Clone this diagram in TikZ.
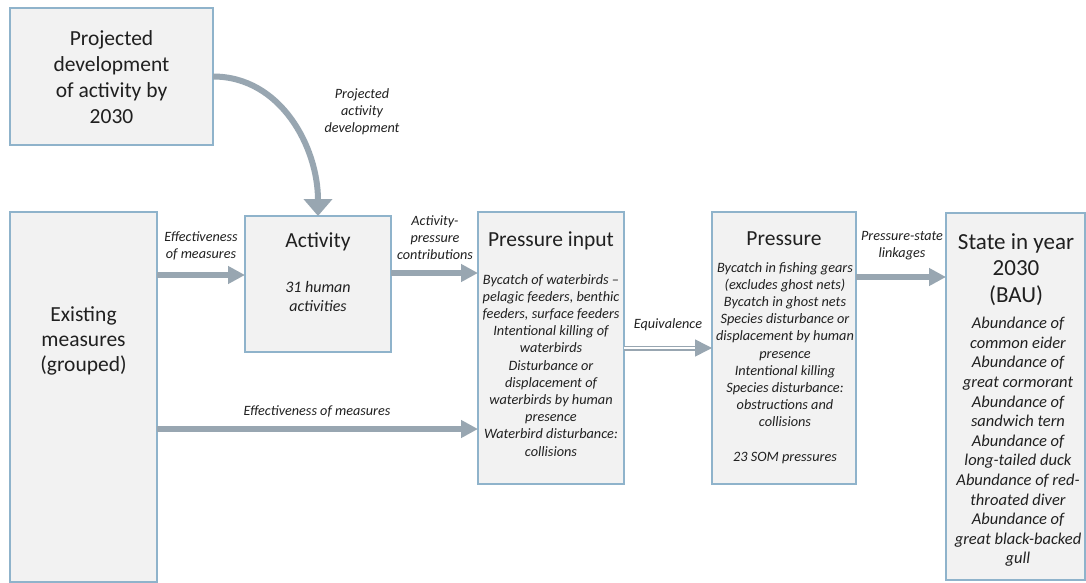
\documentclass[tikz,border=0pt]{standalone}
\usepackage{fontspec}
\setmainfont{Carlito}
\usetikzlibrary{arrows.meta}
\definecolor{boxblue}{RGB}{143,179,203}
\definecolor{boxgray}{RGB}{242,242,242}
\definecolor{arrowgray}{RGB}{152,166,177}
\definecolor{textdark}{RGB}{32,32,32}

\begin{document}
\begin{tikzpicture}[x=1pt,y=-1pt,
  box/.style={draw=boxblue,fill=boxgray,line width=1.6pt,outer sep=0pt,inner sep=0pt,anchor=north west},
  head/.style={font=\fontsize{21.5}{25.8}\selectfont,text=textdark,align=center,anchor=north,inner sep=0pt},
  body/.style={font=\fontsize{14.3}{17.2}\selectfont\itshape,text=textdark,align=center,anchor=north,inner sep=0pt},
  lbl/.style={font=\fontsize{14.2}{17}\selectfont\itshape,text=textdark,align=center,anchor=north,inner sep=0pt},
  flow/.style={draw=arrowgray,line width=6pt,-{Triangle[width=17pt,length=17pt]}},
  bigflow/.style={draw=arrowgray,line width=6pt,-{Triangle[width=28pt,length=17pt]}},
  eqv/.style={draw=arrowgray,line width=1.5pt,double=white,double distance=2pt,-{Triangle[width=17pt,length=17pt]}}]
\fill[white] (0.000000,0.000000) rectangle (1086.000000,583.000000);
% Drawing boxes
\node[box,minimum width=203pt,minimum height=137pt] (proj) at (10.000000,8.000000) {};
\node[box,minimum width=147pt,minimum height=370pt] (exist) at (10.000000,212.000000) {};
\node[box,minimum width=146pt,minimum height=136pt] (act) at (245.000000,216.000000) {};
\node[box,minimum width=146pt,minimum height=272pt] (pin) at (478.000000,212.000000) {};
\node[box,minimum width=144pt,minimum height=272pt] (pres) at (712.000000,212.000000) {};
\node[box,minimum width=139pt,minimum height=367pt] (state) at (946.000000,213.000000) {};
% Done with boxes; drawing box texts
\node[head] (projtxt) at (111.500000,30.500000) {Projected\\development\\of activity by\\2030};
\node[head,font=\fontsize{21.5}{25}\selectfont] (existtxt) at (83.500000,306.500000) {Existing\\measures\\(grouped)};
\node[head] (acthead) at (318.000000,232.000000) {Activity};
\node[body,font=\fontsize{16}{19.5}\selectfont\itshape] (actbody) at (318.000000,281.000000) {31 human\\activities};
\node[head] (pinhead) at (551.000000,232.000000) {Pressure input};
\node[body] (pinbody) at (551.000000,274.000000) {Bycatch of waterbirds --\\pelagic feeders, benthic\\feeders, surface feeders\\Intentional killing of\\waterbirds\\Disturbance or\\displacement of\\waterbirds by human\\presence\\Waterbird disturbance:\\collisions};
\node[head] (preshead) at (784.000000,232.000000) {Pressure};
\node[body] (presbody) at (785.000000,262.000000) {Bycatch in fishing gears\\(excludes ghost nets)\\Bycatch in ghost nets\\Species disturbance or\\displacement by human\\presence\\Intentional killing\\Species disturbance:\\obstructions and\\collisions\\[17.2pt]23 SOM pressures};
\node[head,font=\fontsize{23}{26.5}\selectfont] (statehead) at (1016.000000,233.000000) {State in year\\2030\\(BAU)};
\node[body,font=\fontsize{16.5}{19.6}\selectfont\itshape] (statebody) at (1018.000000,317.000000) {Abundance of\\common eider\\Abundance of\\great cormorant\\Abundance of\\sandwich tern\\Abundance of\\long-tailed duck\\Abundance of red-\\throated diver\\Abundance of\\great black-backed\\gull};
% Done with box texts; drawing arrows
\draw[bigflow] (proj.east) to[out=0,in=90] (act.north);
\draw[flow] ([yshift=9pt]act.west -| exist.east) -- ([yshift=9pt]act.west);
\draw[flow] ([yshift=11pt]act.east) -- ([yshift=11pt]act.east -| pin.west);
\draw[flow] ([yshift=-81pt]pin.west -| exist.east) -- ([yshift=-81pt]pin.west);
\draw[eqv] (pin.east) -- (pres.west);
\draw[flow] ([yshift=71pt]pres.east) -- ([yshift=71pt]pres.east -| state.west);
% Done with arrows; drawing arrow labels
\node[lbl] (projlbl) at (362.000000,88.500000) {Projected\\activity\\development};
\node[lbl] (efflbl) at (201.000000,231.500000) {Effectiveness\\of measures};
\node[lbl] (apclbl) at (435.000000,215.500000) {Activity-\\pressure\\contributions};
\node[lbl] (eqvlbl) at (668.000000,318.000000) {Equivalence};
\node[lbl] (pslbl) at (902.000000,231.500000) {Pressure-state\\linkages};
\node[lbl] (efflowlbl) at (317.000000,405.500000) {Effectiveness of measures};
% Done with labels
\end{tikzpicture}
\end{document}
